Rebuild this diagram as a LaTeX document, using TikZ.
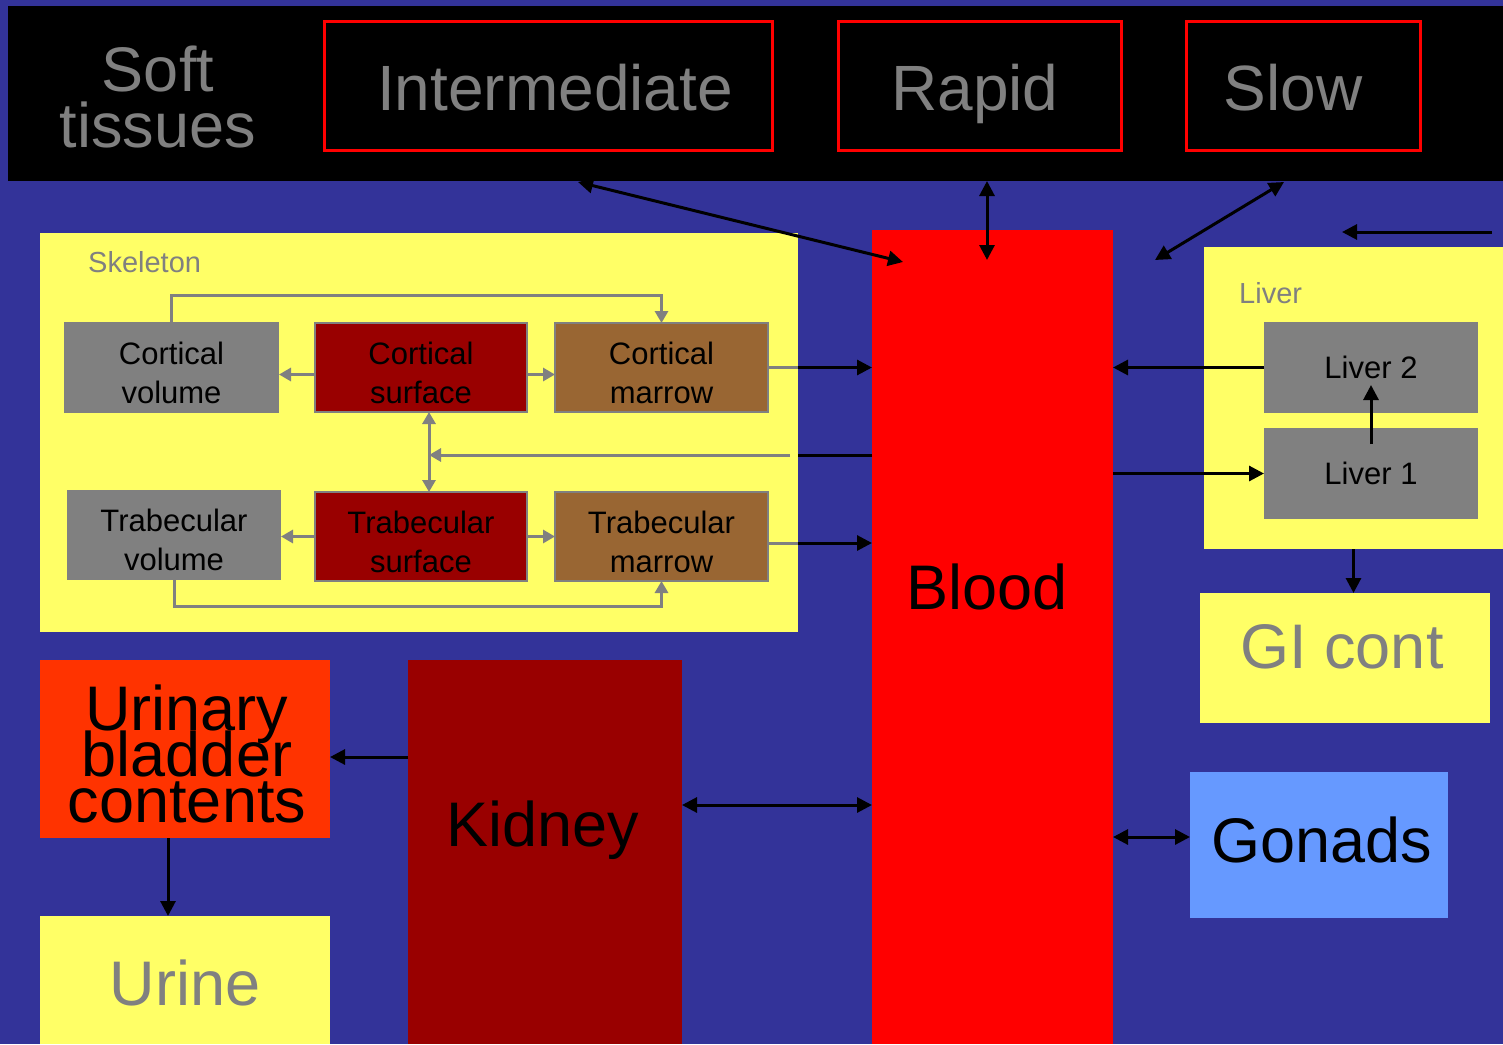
\documentclass[tikz,border=0pt]{standalone}
\usepackage{fontspec}
\setmainfont{Liberation Sans}
\usetikzlibrary{arrows.meta}
\definecolor{bg}{HTML}{333399}
\definecolor{yel}{HTML}{FFFF66}
\definecolor{gr}{HTML}{808080}
\definecolor{dred}{HTML}{990000}
\definecolor{brn}{HTML}{996633}
\definecolor{orr}{HTML}{FF3300}
\definecolor{gon}{HTML}{6699FF}
\newcommand\mytightls{\lineskiplimit=-100pt\relax}
\newcommand\mystrut{\rule{0pt}{33pt}}
\tikzset{
  box/.style={rectangle, anchor=north west, inner sep=0pt, outer sep=0pt, align=center},
  redbox/.style={box, fill=black, draw=red, line width=3pt},
  small/.style={box, font=\fontsize{31}{39}\selectfont, text=black},
  smallg/.style={small, fill=gr},
  smallb/.style={small, draw=gr, line width=2pt},
  big/.style={inner sep=0pt, font=\fontsize{63}{56}\selectfont\mytightls},
  lab/.style={inner sep=0pt, anchor=base west, text=gr, font=\fontsize{29}{34}\selectfont},
  ar/.style={line width=3pt, -{Triangle[length=15pt,width=15pt]}},
  dar/.style={line width=3pt, {Triangle[length=15pt,width=15pt]}-{Triangle[length=15pt,width=15pt]}},
  gline/.style={draw=gr, line width=3pt},
  gar/.style={gline, -{Triangle[length=12pt,width=13pt]}},
  gdar/.style={gline, {Triangle[length=12pt,width=13pt]}-{Triangle[length=12pt,width=13pt]}},
}
\begin{document}
\begin{tikzpicture}[x=1pt,y=-1pt]
\fill[bg] (0,0) rectangle (1503,1044);
\useasboundingbox (0,0) rectangle (1503,1044);

% top band
\node[box, fill=black, minimum width=1495, minimum height=175] (band) at (8,6) {};
\node[big, text=gr, align=center] (soft) at (158,97) {Soft\\tissues};
\node[redbox, minimum width=448, minimum height=129] (inter) at (324,21) {};
\node[big, anchor=base, text=gr, font=\fontsize{64}{56}\selectfont] (interlab) at (555,110) {Intermediate};
\node[redbox, minimum width=283, minimum height=129] (rapid) at (838,21) {};
\node[big, anchor=base, text=gr, font=\fontsize{64}{56}\selectfont] (rapidlab) at (975,110) {Rapid};
\node[redbox, minimum width=234, minimum height=129] (slow) at (1186,21) {};
\node[big, anchor=base, text=gr, font=\fontsize{64}{56}\selectfont] (slowlab) at (1293,110) {Slow};

% skeleton
\node[box, fill=yel, minimum width=758, minimum height=399] (skel) at (40,233) {};
\node[lab] (skellab) at (88,272) {Skeleton};
\node[smallg, minimum width=215, minimum height=91] (cv) at (64,322) {\mystrut Cortical\\volume};
\node[smallb, fill=dred, minimum width=212, minimum height=89] (cs) at (315,323) {\mystrut Cortical\\surface};
\node[smallb, fill=brn, minimum width=213, minimum height=89] (cm) at (555,323) {\mystrut Cortical\\marrow};
\node[smallg, minimum width=214, minimum height=90] (tv) at (67,490) {\mystrut Trabecular\\volume};
\node[smallb, fill=dred, minimum width=212, minimum height=89] (ts) at (315,492) {\mystrut Trabecular\\surface};
\node[smallb, fill=brn, minimum width=213, minimum height=89] (tm) at (555,492) {\mystrut Trabecular\\marrow};

% blood
\node[box, fill=red, minimum width=241, minimum height=814] (blood) at (872,230) {};
\node[big, text=black] (bloodlab) at (987,587) {Blood};

% kidney, bladder, urine
\node[box, fill=dred, minimum width=274, minimum height=384] (kid) at (408,660) {};
\node[big, anchor=base, text=black] (kidlab) at (543,846) {Kidney};
\node[box, fill=orr, minimum width=290, minimum height=178] (bl) at (40,660) {};
\node[big, align=center, text=black, font=\fontsize{63}{46}\selectfont\mytightls] (bllab) at (187,754) {Urinary\\bladder\\contents};
\node[box, fill=yel, minimum width=290, minimum height=128] (ur) at (40,916) {};
\node[big, anchor=base, text=gr] (urlab) at (185,1005) {Urine};

% liver
\node[box, fill=yel, minimum width=299, minimum height=302] (liver) at (1204,247) {};
\node[lab] (liverlab) at (1239,303) {Liver};
\node[smallg, minimum width=214, minimum height=91] (l2) at (1264,322) {Liver 2};
\node[smallg, minimum width=214, minimum height=91] (l1) at (1264,428) {Liver 1};

% GI, gonads
\node[box, fill=yel, minimum width=290, minimum height=130] (gi) at (1200,593) {};
\node[big, anchor=base, text=gr] (gilab) at (1342,668) {GI cont};
\node[box, fill=gon, minimum width=258, minimum height=146] (gon) at (1190,772) {};
\node[big, anchor=base, text=black] (gonlab) at (1322,862) {Gonads};

% coordinates
\coordinate (sk) at (798,455);
\coordinate (rb) at (987,260);
\coordinate (it) at (578,182);
\coordinate (ib) at (903,262);
\coordinate (st) at (1284,182);
\coordinate (sb) at (1155,260);
\coordinate (fa) at (1492,232);
\coordinate (fb) at (1342,232);
\coordinate (vx) at ([xshift=8]cs.south);
\coordinate (cmo) at ([xshift=30]cm.east);
\coordinate (tmr) at ([yshift=-6.5]tm.east);
\coordinate (tmo) at ([xshift=30]tmr);
\coordinate (k1) at ([yshift=47]kid.east);
\coordinate (k2) at ([yshift=95]kid.west);
\coordinate (b1) at ([xshift=-17]bl.south);
\coordinate (g1) at ([yshift=8]gon.west);

% skeleton internal (gray)
\draw[gar] (cv.north) -- ++(0,-27) -| (cm.north);
\draw[gar] ([yshift=-7]cs.west) -- ([yshift=-7]cv.east);
\draw[gar] ([yshift=-7]cs.east) -- ([yshift=-7]cm.west);
\draw[gdar] (vx) -- (vx |- ts.north);
\draw[gar] ([xshift=-8]sk) -- (vx |- sk);
\draw[gar] (ts.west) -- (ts.west -| tv.east);
\draw[gar] (ts.east) -- (tm.west);
\draw[gar] (tv.south) -- ++(0,26) -| (tm.south);
\draw[gline] (cm.east) -- (cmo);
\draw[gline] (tmr) -- (tmo);

% black connectors
\draw[ar] (cmo) -- (cmo -| blood.west);
\draw[ar] (tmo) -- (tmo -| blood.west);
\draw[line width=3pt] (sk -| blood.west) -- (sk);
\draw[dar] (band.south -| rb) -- (rb);
\draw[dar] (it) -- (ib);
\draw[dar] (st) -- (sb);
\draw[ar] (fa) -- (fb);
\draw[ar] (l2.west) -- (l2.west -| blood.east);
\draw[ar] (l1.west -| blood.east) -- (l1.west);
\draw[ar] ([yshift=-16]l1.north) -- ([yshift=28]l2.south);
\draw[ar] (liver.south) -- (liver.south |- gi.north);
\draw[dar] (g1 -| blood.east) -- (g1);
\draw[dar] (k1) -- (k1 -| blood.west);
\draw[ar] (k2) -- (k2 -| bl.east);
\draw[ar] (b1) -- (b1 |- ur.north);
\end{tikzpicture}
\end{document}
